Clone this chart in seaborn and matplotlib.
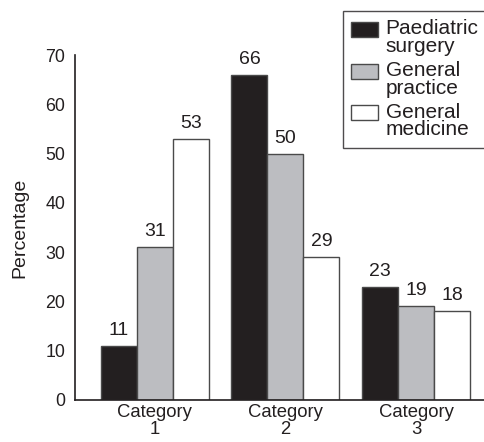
import matplotlib
matplotlib.use("Agg")
import matplotlib.pyplot as plt
from matplotlib.patches import Rectangle
from matplotlib.legend_handler import HandlerPatch
import seaborn as sns
import pandas as pd

categories = ["Category\n1", "Category\n2", "Category\n3"]
groups = ["Paediatric\nsurgery", "General\npractice", "General\nmedicine"]
paediatric_surgery = [11, 66, 23]
general_practice = [31, 50, 19]
general_medicine = [53, 29, 18]
colors = ["#231f20", "#bcbdc1", "#ffffff"]

rows = []
for g, vals in zip(groups, [paediatric_surgery, general_practice, general_medicine]):
    for c, v in zip(categories, vals):
        rows.append({"category": c, "group": g, "value": v})
df = pd.DataFrame(rows)

sns.set_style("white")
plt.rcParams["font.family"] = ["Liberation Sans", "DejaVu Sans"]
plt.rcParams["font.size"] = 13
ink = "#231f20"

fig = plt.figure(figsize=(4.85, 4.42), dpi=100)
ax = fig.add_axes([75 / 485, 42 / 442, 1 - 75 / 485, 345 / 442])

sns.barplot(data=df, x="category", y="value", hue="group", order=categories,
            hue_order=groups, palette=colors, width=0.826, saturation=1,
            edgecolor="#4a4a4a", linewidth=1.0, ax=ax, legend=True)

for container in ax.containers:
    ax.bar_label(container, fmt="%d", padding=5, fontsize=14, color=ink)

ax.set_xlim(-0.61, 2.527)
ax.set_ylim(0, 70)
ax.set_yticks(range(0, 71, 10))
ax.set_xlabel("")
ax.set_ylabel("Percentage", fontsize=14, color=ink, labelpad=12)
ax.tick_params(axis="y", direction="in", length=11, width=1, colors=ink,
               labelsize=12.8, pad=7)
ax.tick_params(axis="x", length=0, labelsize=13.3, colors=ink, pad=3)
for lbl in ax.get_xticklabels():
    lbl.set_linespacing(0.95)

for s in ["top", "right"]:
    ax.spines[s].set_visible(False)
for s in ["left", "bottom"]:
    ax.spines[s].set_color(ink)
    ax.spines[s].set_linewidth(1.2)


def top_swatch(legend, orig_handle, xdescent, ydescent, width, height, fontsize):
    # swatch sits beside the first line of a two-line label
    h = 0.72 * fontsize
    return Rectangle((-xdescent, -ydescent + height - h), width, h)


fs_leg = 15
leg = ax.legend(loc="upper left", bbox_to_anchor=(343 / 485, 431 / 442),
                bbox_transform=fig.transFigure, frameon=True, fancybox=False,
                fontsize=fs_leg, handlelength=1.3, handleheight=2.05,
                handletextpad=0.35, labelspacing=0.25, borderpad=0.4,
                borderaxespad=0,
                handler_map={Rectangle: HandlerPatch(patch_func=top_swatch)})
leg.get_frame().set_edgecolor(ink)
leg.get_frame().set_linewidth(1.0)
for t in leg.get_texts():
    t.set_linespacing(0.9)
    t.set_color(ink)
for p in leg.get_patches():
    p.set_edgecolor("#4a4a4a")
    p.set_linewidth(1.0)

fig.savefig("out.png", dpi=100)
